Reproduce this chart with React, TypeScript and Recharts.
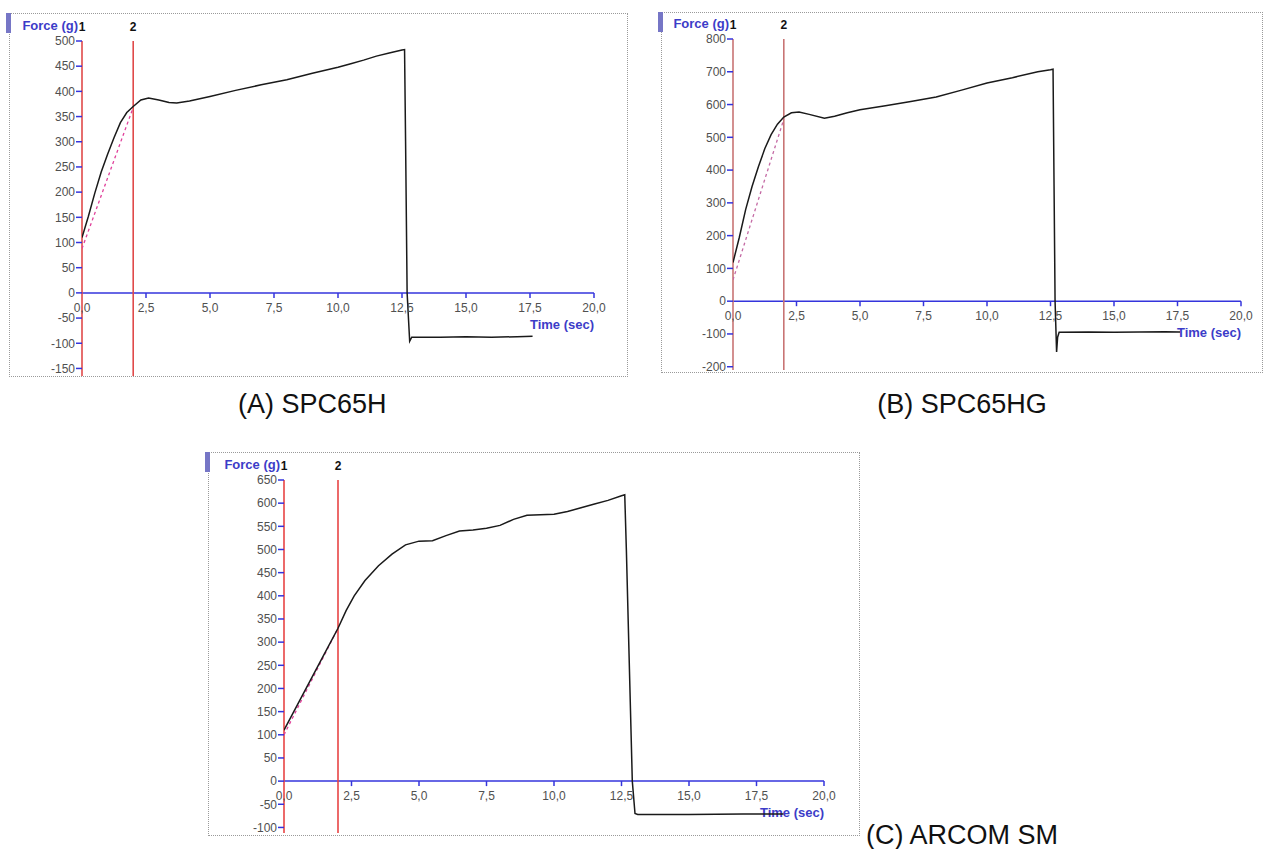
import { LineChart, Line, XAxis, YAxis, ReferenceLine, ReferenceDot } from "recharts";

// time axis shared by the three texture-analyser plots
const timeTicks = [0, 2.5, 5, 7.5, 10, 12.5, 15, 17.5, 20];

// (A) SPC65H
const aTime = [0, 0.25, 0.5, 0.75, 1.0, 1.25, 1.5, 1.75, 2.0, 2.3, 2.6, 3.0, 3.4, 3.7, 4.2, 5.0, 6.0, 7.0, 7.5, 8.0, 9.0, 9.5, 10.0, 10.5, 11.0, 11.5, 12.0, 12.5, 12.6, 12.64, 12.7, 12.8, 12.88, 14.0, 15.0, 16.0, 17.0, 17.6];
const aForce = [110, 152, 198, 240, 275, 308, 338, 358, 370, 383, 387, 383, 378, 377, 381, 390, 402, 413, 418, 423, 436, 442, 448, 455, 462, 470, 476, 482, 483, 300, 0, -96, -88, -88, -87, -88, -87, -86];
const aFitTime = [0, 2];
const aFitForce = [88, 368];
const aYTicks = [-150, -100, -50, 0, 50, 100, 150, 200, 250, 300, 350, 400, 450, 500];

// (B) SPC65HG
const bTime = [0, 0.25, 0.5, 0.75, 1.0, 1.25, 1.5, 1.75, 2.0, 2.3, 2.6, 3.0, 3.6, 4.0, 4.5, 5.0, 6.0, 7.0, 8.0, 9.0, 10.0, 11.0, 12.0, 12.5, 12.6, 12.64, 12.68, 12.74, 12.78, 12.84, 14.0, 15.0, 16.0, 17.0, 17.6];
const bForce = [118, 195, 280, 350, 410, 465, 508, 540, 562, 575, 577, 570, 558, 564, 575, 584, 596, 609, 623, 644, 666, 682, 700, 706, 708, 350, 0, -155, -110, -95, -94, -95, -94, -93, -94];
const bFitTime = [0, 2];
const bFitForce = [65, 555];
const bYTicks = [-200, -100, 0, 100, 200, 300, 400, 500, 600, 700, 800];

// (C) ARCOM SM
const cTime = [0, 0.5, 1.0, 1.5, 2.0, 2.3, 2.6, 3.0, 3.5, 4.0, 4.5, 5.0, 5.5, 6.0, 6.5, 7.0, 7.5, 8.0, 8.5, 9.0, 9.5, 10.0, 10.5, 11.0, 11.5, 12.0, 12.5, 12.62, 12.68, 12.9, 13.0, 13.1, 15.0, 17.0, 18.5];
const cForce = [110, 165, 220, 275, 330, 368, 400, 433, 465, 490, 510, 518, 519, 530, 540, 542, 546, 552, 565, 574, 575, 576, 582, 590, 598, 606, 616, 618, 500, 0, -70, -72, -72, -71, -71];
const cFitTime = [0, 2];
const cFitForce = [100, 330];
const cYTicks = [-100, -50, 0, 50, 100, 150, 200, 250, 300, 350, 400, 450, 500, 550, 600, 650];

const rows = (t: number[], f: number[]) => t.map((x, i) => ({ t: x, f: f[i] }));

const BLUE = "#3434dc";
const TICK_TEXT = "#505050";
const FONT = "Arial, 'Liberation Sans', sans-serif";

type Rect = { left: number; top: number; right: number; bottom: number };

type PanelProps = {
  frame: Rect;
  plot: Rect;
  yDomain: [number, number];
  yTicks: number[];
  curve: { t: number; f: number }[];
  fit: { t: number; f: number }[];
  cursor: string;
  fitColor: string;
};

const fmt = (v: number) => v.toFixed(1).replace(".", ",");

function Panel({ frame, plot, yDomain, yTicks, curve, fit, cursor, fitColor }: PanelProps) {
  const w = frame.right - frame.left;
  const h = frame.bottom - frame.top;
  const yw = 46;
  const margin = {
    top: plot.top - frame.top,
    bottom: frame.bottom - plot.bottom,
    left: plot.left - frame.left - yw,
    right: frame.right - plot.right,
  };
  return (
    <>
      <div
        style={{
          position: "absolute",
          left: frame.left,
          top: frame.top,
          width: w,
          height: h,
          border: "1px dotted #9a9a9a",
          boxSizing: "border-box",
        }}
      />
      <div
        style={{
          position: "absolute",
          left: frame.left - 3,
          top: frame.top,
          width: 5,
          height: 20,
          background: "#7676c6",
        }}
      />
      <div
        style={{
          position: "absolute",
          left: plot.left - 4 - 70,
          width: 70,
          top: plot.top - 23,
          height: 16,
          lineHeight: "16px",
          textAlign: "right",
          color: "#3c3cc8",
          fontFamily: FONT,
          fontSize: 13,
          fontWeight: 700,
        }}
      >
        Force (g)
      </div>
      <div style={{ position: "absolute", left: frame.left, top: frame.top }}>
        <LineChart width={w} height={h} margin={margin}>
          <XAxis dataKey="t" type="number" domain={[0, 20]} hide allowDataOverflow />
          <YAxis
            type="number"
            domain={yDomain}
            ticks={yTicks}
            interval={0}
            width={yw}
            axisLine={false}
            tickLine={{ stroke: BLUE, strokeWidth: 1.5 }}
            tickSize={6}
            tickMargin={1}
            tick={{ fill: TICK_TEXT, fontSize: 12, fontFamily: FONT }}
            allowDataOverflow
          />
          <ReferenceLine
            y={0}
            stroke={BLUE}
            strokeWidth={1.5}
            label={(lp: any) => {
              const vb = lp.viewBox;
              return (
                <text
                  x={vb.x + vb.width}
                  y={vb.y + 36}
                  textAnchor="end"
                  fill="#3c3cc8"
                  fontSize={13}
                  fontWeight={700}
                  fontFamily={FONT}
                >
                  Time (sec)
                </text>
              );
            }}
          />
          {timeTicks.map((t) => (
            <ReferenceDot
              key={t}
              x={t}
              y={0}
              r={0}
              shape={(s: any) => (
                <g>
                  {t > 0 && (
                    <line x1={s.cx} x2={s.cx} y1={s.cy} y2={s.cy + 5} stroke={BLUE} strokeWidth={1.5} />
                  )}
                  <text
                    x={s.cx}
                    y={s.cy + 19}
                    textAnchor="middle"
                    fontSize={12}
                    fill={TICK_TEXT}
                    fontFamily={FONT}
                  >
                    {fmt(t)}
                  </text>
                </g>
              )}
            />
          ))}
          <ReferenceLine
            x={0}
            stroke={cursor}
            strokeWidth={1.6}
            label={{ value: "1", position: "top", offset: 10, fill: "#111", fontSize: 12, fontWeight: 700, fontFamily: FONT }}
          />
          <ReferenceLine
            x={2}
            stroke={cursor}
            strokeWidth={1.6}
            label={{ value: "2", position: "top", offset: 10, fill: "#111", fontSize: 12, fontWeight: 700, fontFamily: FONT }}
          />
          <Line
            data={fit}
            dataKey="f"
            type="linear"
            stroke={fitColor}
            strokeWidth={1.3}
            strokeDasharray="3 3"
            dot={false}
            isAnimationActive={false}
          />
          <Line
            data={curve}
            dataKey="f"
            type="linear"
            stroke="#1a1a1a"
            strokeWidth={1.5}
            dot={false}
            isAnimationActive={false}
          />
        </LineChart>
      </div>
    </>
  );
}

const captionStyle = {
  position: "absolute" as const,
  fontFamily: FONT,
  fontSize: 27,
  lineHeight: "27px",
  color: "#111",
  whiteSpace: "nowrap" as const,
};

export default function App() {
  return (
    <div
      style={{
        position: "absolute",
        left: 0,
        top: 0,
        width: 1267,
        height: 849,
        background: "#fff",
        overflow: "hidden",
      }}
    >
      <Panel
        frame={{ left: 9, top: 13, right: 628, bottom: 377 }}
        plot={{ left: 82, top: 41, right: 594, bottom: 376 }}
        yDomain={[-165, 500]}
        yTicks={aYTicks}
        curve={rows(aTime, aForce)}
        fit={rows(aFitTime, aFitForce)}
        cursor="#e04a4a"
        fitColor="#e0409a"
      />
      <Panel
        frame={{ left: 661, top: 12, right: 1263, bottom: 373 }}
        plot={{ left: 733, top: 39, right: 1241, bottom: 370 }}
        yDomain={[-210, 800]}
        yTicks={bYTicks}
        curve={rows(bTime, bForce)}
        fit={rows(bFitTime, bFitForce)}
        cursor="#c87474"
        fitColor="#c46aa4"
      />
      <Panel
        frame={{ left: 208, top: 452, right: 860, bottom: 836 }}
        plot={{ left: 284, top: 480, right: 824, bottom: 833 }}
        yDomain={[-112, 650]}
        yTicks={cYTicks}
        curve={rows(cTime, cForce)}
        fit={rows(cFitTime, cFitForce)}
        cursor="#e84444"
        fitColor="#e0409a"
      />
      <div style={{ ...captionStyle, left: 238, top: 391 }}>(A) SPC65H</div>
      <div style={{ ...captionStyle, left: 962, top: 391, transform: "translateX(-50%)" }}>(B) SPC65HG</div>
      <div style={{ ...captionStyle, left: 866, top: 822 }}>(C) ARCOM SM</div>
    </div>
  );
}
